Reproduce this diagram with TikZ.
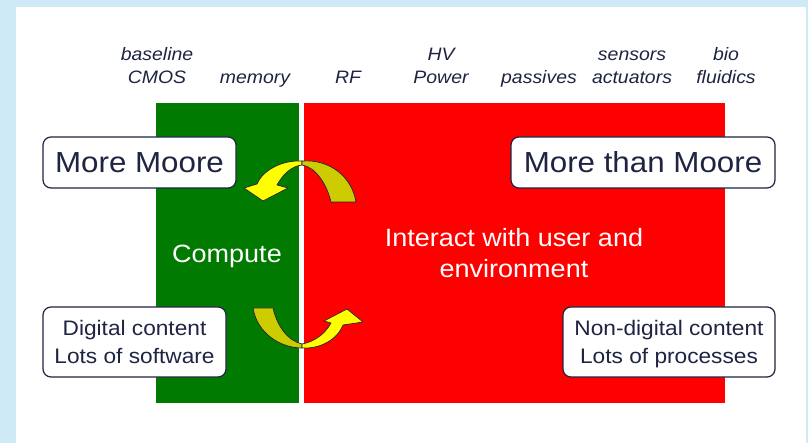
\documentclass[tikz,border=0pt]{standalone}
\usepackage{fontspec}
\setmainfont{Liberation Sans}[FakeStretch=1.08]
\definecolor{bgblue}{RGB}{205,234,246}
\definecolor{cgreen}{RGB}{0,122,0}
\definecolor{cred}{RGB}{255,0,0}
\definecolor{ink}{RGB}{30,36,66}
\definecolor{dyellow}{RGB}{204,204,0}
\definecolor{byellow}{RGB}{255,255,0}
\begin{document}
\begin{tikzpicture}[x=1pt,y=-1pt,
  lab/.style={font=\fontsize{18}{22}\selectfont\itshape, text=ink, inner sep=0pt, anchor=base},
  bigbox/.style={draw=ink, line width=1.2pt, rounded corners=8pt, fill=white,
    font=\fontsize{29}{29}\selectfont, text=ink, inner sep=0pt},
  smallbox/.style={draw=ink, line width=1.2pt, rounded corners=8pt, fill=white,
    font=\fontsize{21}{28}\selectfont, text=ink, align=center, inner sep=0pt, text depth=0pt},
  area/.style={inner sep=0pt, anchor=north west},
  wtext/.style={font=\fontsize{25}{31}\selectfont, text=white, inner sep=0pt, anchor=base},
  arr/.style={draw=ink, line width=0.7pt, line join=round}]
\useasboundingbox (0,0) rectangle (808,443);
\fill[bgblue] (0,0) rectangle (808,443);
\fill[white] (16,7) rectangle (806,443);

\node[area, fill=cgreen, minimum width=143, minimum height=300] (green) at (156,103) {};
\node[area, fill=cred, minimum width=421, minimum height=300] (red) at (304,103) {};

\node[lab] (baseline) at (157,61) {baseline};
\node[lab] (cmos) at (157,84) {CMOS};
\node[lab] (memory) at (255,84) {memory};
\node[lab] (rf) at (348,84) {RF};
\node[lab] (hv) at (441,61) {HV};
\node[lab] (power) at (441,84) {Power};
\node[lab] (passives) at (539,84) {passives};
\node[lab] (sensors) at (632,61) {sensors};
\node[lab] (actuators) at (632,84) {actuators};
\node[lab] (bio) at (726,61) {bio};
\node[lab] (fluidics) at (726,84) {fluidics};

\node[bigbox, minimum width=193, minimum height=51] (mm) at (139.5,162.5) {More Moore};
\node[bigbox, minimum width=264, minimum height=51] (mtm) at (643,162.5) {More than Moore};

\node[smallbox, minimum width=183, minimum height=70] (dig) at (134.5,342) {Digital content\\Lots of software};
\node[smallbox, minimum width=212, minimum height=70] (nondig) at (669,342) {Non-digital content\\Lots of processes};

\node[wtext] (compute) at (227,263) {Compute};
\node[wtext] (interact1) at (514,247) {Interact with user and};
\node[wtext] (interact2) at (514,278) {environment};

% top curved arrow
\filldraw[arr, fill=byellow] (302,161) .. controls (282,160) and (263,170) .. (257,184)
  -- (244,188) -- (263,201) -- (288,188) -- (277,185)
  .. controls (283,174) and (292,166) .. (302,165) -- cycle;
\filldraw[arr, fill=dyellow] (302,161) .. controls (330,159) and (352,177) .. (356,202)
  -- (331,202) .. controls (327,185) and (316,167) .. (302,165) -- cycle;

% bottom curved arrow
\filldraw[arr, fill=dyellow] (302,348) .. controls (280,348) and (257,333) .. (253,308)
  -- (273,308) .. controls (277,326) and (288,341) .. (302,344) -- cycle;
\filldraw[arr, fill=byellow] (302,348) .. controls (320,349) and (337,340) .. (343,325)
  -- (363,322) -- (347,309) -- (324,321) -- (331,323)
  .. controls (325,334) and (314,342) .. (302,344) -- cycle;
\end{tikzpicture}
\end{document}
